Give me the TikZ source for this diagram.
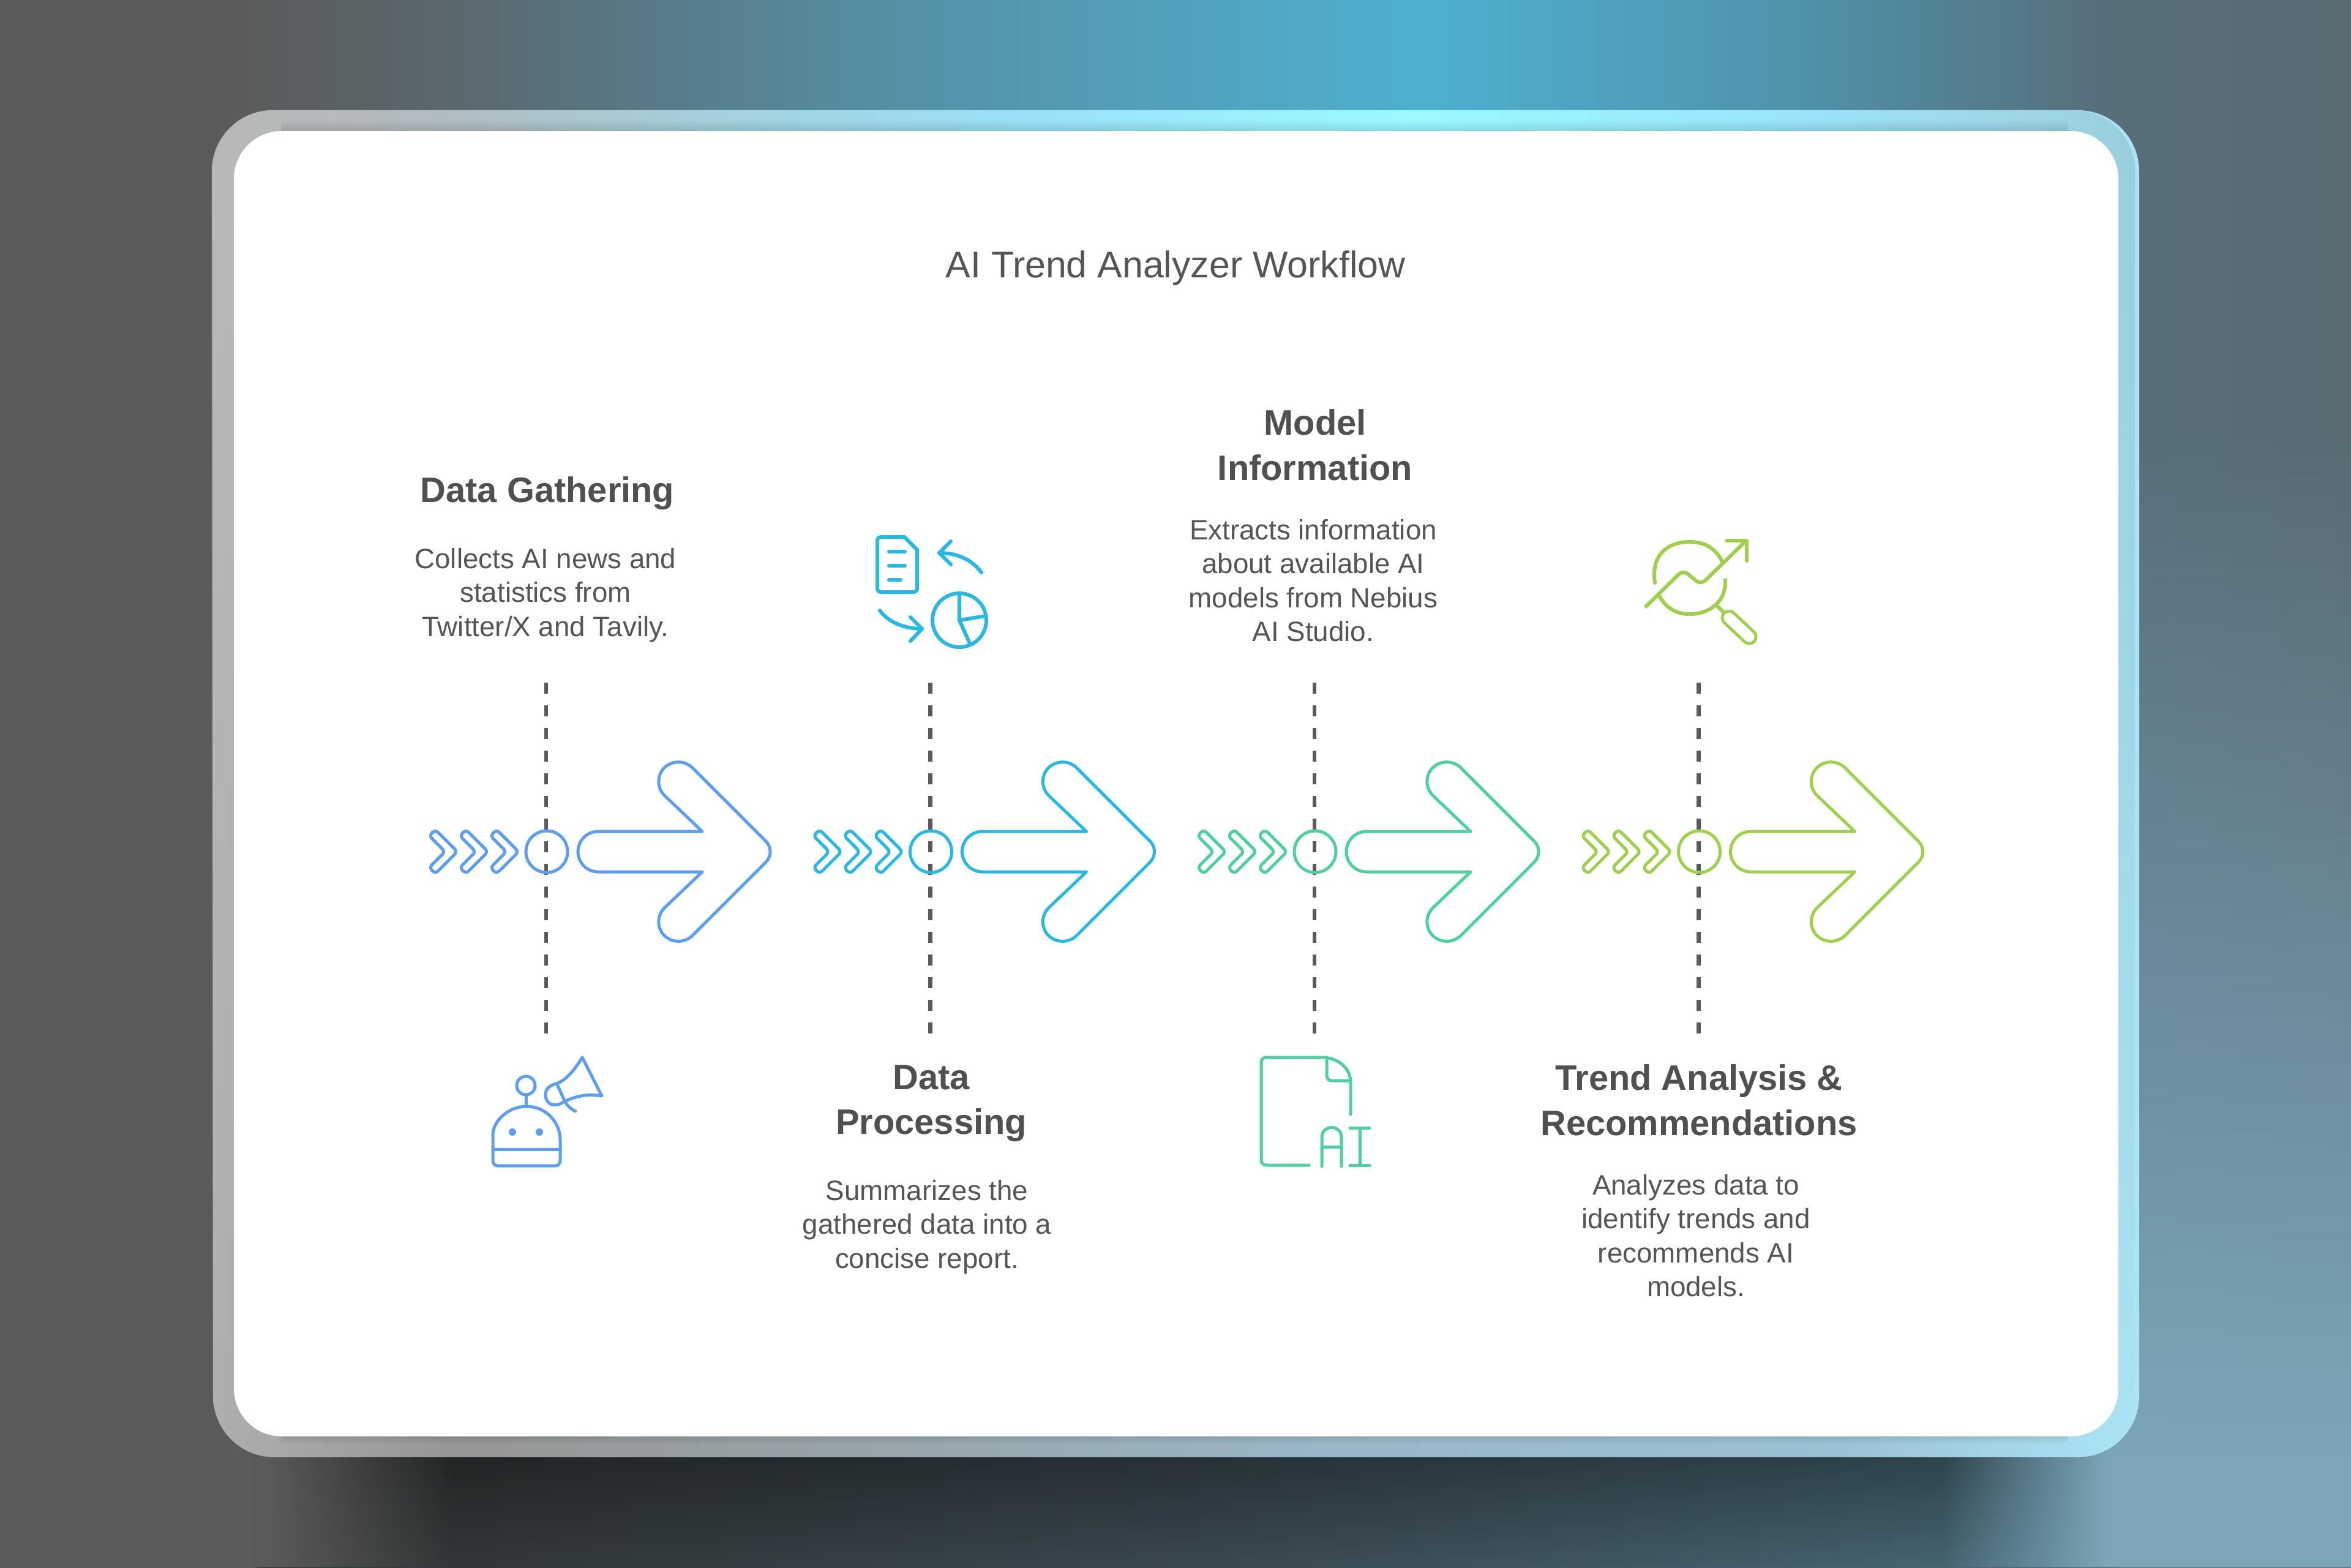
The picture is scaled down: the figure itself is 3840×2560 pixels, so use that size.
\documentclass[tikz,border=0pt]{standalone}
\usepackage{fontspec}
\setmainfont{Liberation Sans}
\usetikzlibrary{positioning,fadings}

\definecolor{stepblue}{HTML}{5D9EEF}
\definecolor{stepcyan}{HTML}{2BB8E0}
\definecolor{stepgreen}{HTML}{50D0A0}
\definecolor{steplime}{HTML}{A0CF50}
\definecolor{inktext}{HTML}{555555}
\definecolor{inkhead}{HTML}{505050}
\definecolor{backleft}{HTML}{5A5A5A}
\definecolor{backright}{HTML}{7BA6B8}

\pgfdeclarehorizontalshading{backshade}{100bp}{%
  rgb(0bp)=(.353,.353,.353); rgb(29.6bp)=(.353,.353,.353); rgb(34.6bp)=(.353,.408,.427);
  rgb(44.1bp)=(.333,.565,.647); rgb(55.3bp)=(.306,.69,.812); rgb(63.3bp)=(.31,.573,.667);
  rgb(69.7bp)=(.341,.435,.478); rgb(75bp)=(.349,.416,.447); rgb(100bp)=(.349,.416,.447)}
\pgfdeclarehorizontalshading{shadowshade}{100bp}{%
  rgb(0bp)=(.188,.2,.2); rgb(25bp)=(.188,.2,.2); rgb(50bp)=(.227,.282,.314);
  rgb(70bp)=(.271,.392,.439); rgb(100bp)=(.271,.392,.439)}
\pgfdeclarehorizontalshading{frametop}{100bp}{%
  rgb(0bp)=(.725,.725,.725); rgb(25bp)=(.725,.725,.725); rgb(30.6bp)=(.702,.737,.753);
  rgb(38.5bp)=(.643,.824,.871); rgb(46.5bp)=(.608,.886,.98); rgb(56bp)=(.612,.984,1);
  rgb(65.6bp)=(.6,.902,.988); rgb(72bp)=(.624,.839,.902); rgb(75bp)=(.596,.808,.867);
  rgb(100bp)=(.596,.808,.867)}
\pgfdeclarehorizontalshading{framebottom}{100bp}{%
  rgb(0bp)=(.745,.745,.745); rgb(25bp)=(.686,.686,.686); rgb(31.2bp)=(.588,.588,.588);
  rgb(41.7bp)=(.596,.643,.659); rgb(54.5bp)=(.6,.722,.784); rgb(67.2bp)=(.608,.761,.831);
  rgb(73.5bp)=(.663,.875,.949); rgb(75bp)=(.667,.894,.961); rgb(100bp)=(.667,.894,.961)}

\tikzset{
  dashline/.style={draw=backleft,line width=0.065cm,dash pattern=on 0.18cm off 0.19cm},
  stepline/.style={line width=0.05cm,line join=round,line cap=round},
  headtext/.style={align=center,inner sep=0pt,text=inkhead,
    font=\fontsize{16.45}{20.9}\selectfont\bfseries},
  desctext/.style={align=center,inner sep=0pt,text=inktext,
    font=\fontsize{13}{15.8}\selectfont},
}

% one chevron, x from the dashed line
\newcommand{\chevron}[2]{
  \draw [stepline,draw=#2,rounded corners=0.06cm]
  (#1+25,0) -- (#1-1,-26) -- (#1+9,-36) -- (#1+45,0)
  -- (#1+9,36) -- (#1-1,26) -- cycle;
}

% dashed line, chevrons, ring and big arrow of one step
\newcommand{\flowstep}[3]{
  \coordinate (#1top) at (#2,1115);
  \coordinate (#1bot) at (#2,1690);
  \draw [dashline] (#1top) -- (#1bot);
  \begin{scope}[shift={(#2,1391)}]
    \chevron{-190}{#3}
    \chevron{-140}{#3}
    \chevron{-90}{#3}
    \node (#1ring) [circle,draw=#3,line width=0.05cm,minimum size=0.68cm,inner sep=0pt]
    at (1,0) {};
    \draw [stepline,draw=#3]
    (255,-33) [rounded corners=0.33cm] -- (170,-114) -- (216,-160)
    [rounded corners=0.24cm] -- (376,0) [rounded corners=0.33cm] -- (216,160) -- (170,114)
    [sharp corners] -- (255,33) [rounded corners=0.33cm] -- (52,33) -- (52,-33)
    [sharp corners] -- cycle;
  \end{scope}
}

\begin{document}
\begin{tikzpicture}[x=0.01cm,y=-0.01cm]

  \useasboundingbox (0,0) rectangle (3840,2560);

  % backdrop
  \shade [shading=backshade] (0,0) rectangle (3840,2560);
  \fill [backright,path fading=north] (3440,700) rectangle (3840,2370);
  \fill [backright] (3440,2370) rectangle (3840,2560);

  % shadow under the card
  \shade [shading=shadowshade] (420,2370) rectangle (3460,2560);
  \fill [black,opacity=0.35,path fading=south] (420,2370) rectangle (3460,2560);
  \fill [backleft] (410,2370) rectangle (441,2560);
  \fill [backleft,path fading=east] (440,2370) rectangle (740,2560);
  \fill [backright] (3439,2370) rectangle (3470,2560);
  \fill [backright,path fading=west] (3170,2370) rectangle (3440,2560);

  % frame and card
  \shade [shading=framebottom,rounded corners=1cm] (348,180) rectangle (3494,2380);
  \shade [shading=frametop,rounded corners=1cm,path fading=south]
  (348,180) rectangle (3494,2380);
  \fill [black,opacity=0.12,path fading=north] (460,196) rectangle (3382,214);
  \fill [black,opacity=0.1,path fading=south] (460,2346) rectangle (3382,2358);
  \fill [white,rounded corners=0.78cm] (382,214) rectangle (3460,2346);

  \node (title) [inner sep=0pt,text=inktext,font=\fontsize{17.3}{20}\selectfont]
  at (1920,438) {AI Trend Analyzer Workflow};

  \flowstep{gather}{892}{stepblue}
  \flowstep{process}{1519.5}{stepcyan}
  \flowstep{model}{2147}{stepgreen}
  \flowstep{trend}{2774.5}{steplime}

  \node (gatherhead) [headtext] at (894,806) {Data Gathering};
  \node (gatherdesc) [desctext] at (891,972)
        {Collects AI news and \\ statistics from \\ Twitter/X and Tavily.};

  \node (processhead) [headtext] at (1521,1802) {Data \\ Processing};
  \node (processdesc) [desctext] at (1514,2004)
        {Summarizes the \\ gathered data into a \\ concise report.};

  \node (modelhead) [headtext] at (2148,727) {Model \\ Information};
  \node (modeldesc) [desctext] at (2145,948)
        {Extracts information \\ about available AI \\ models from Nebius \\ AI Studio.};

  \node (trendhead) [headtext] at (2775,1797) {Trend Analysis \& \\ Recommendations};
  \node (trenddesc) [desctext] at (2770,2018)
        {Analyzes data to \\ identify trends and \\ recommends AI \\ models.};

  % robot with megaphone
  \draw [stepline,draw=stepblue]
  (805,1862) arc [start angle=180,end angle=360,radius=55]
  [rounded corners=0.08cm] -- (915,1904) -- (805,1904) -- cycle;
  \draw [stepline,draw=stepblue] (805,1877) -- (915,1877);
  \draw [stepline,draw=stepblue] (859,1788) -- (859,1807);
  \draw [stepline,draw=stepblue] (859,1773) circle [radius=15];
  \fill [stepblue] (837,1849) circle [radius=6];
  \fill [stepblue] (881,1849) circle [radius=6];
  \draw [stepline,draw=stepblue]
  (908,1770) .. controls (925,1765) and (940,1745) .. (951,1727) -- (983,1790)
  .. controls (960,1786) and (940,1790) .. (920,1800)
  .. controls (905,1810) and (891,1803) .. (891,1788)
  .. controls (891,1778) and (898,1773) .. (908,1770);
  \draw [stepline,draw=stepblue]
  (910,1771) -- (923,1800) .. controls (928,1807) and (933,1812) .. (940,1815);

  % document, arrows and pie
  \draw [stepline,draw=stepcyan,line width=0.06cm,rounded corners=0.06cm]
  (1477,877) -- (1433,877) -- (1433,967) -- (1498,967) -- (1498,898);
  \draw [stepline,draw=stepcyan,line width=0.06cm] (1477,877) -- (1498,898);
  \draw [stepline,draw=stepcyan,line width=0.06cm] (1452,901) -- (1478,901);
  \draw [stepline,draw=stepcyan,line width=0.06cm] (1452,924) -- (1478,924);
  \draw [stepline,draw=stepcyan,line width=0.06cm] (1452,947) -- (1471,947);
  \draw [stepline,draw=stepcyan,line width=0.06cm]
  (1603,935) .. controls (1588,915) and (1565,903) .. (1534,903);
  \draw [stepline,draw=stepcyan,line width=0.06cm] (1553,884) -- (1534,903) -- (1553,922);
  \draw [stepline,draw=stepcyan,line width=0.06cm]
  (1437,997) .. controls (1450,1015) and (1475,1027) .. (1506,1027);
  \draw [stepline,draw=stepcyan,line width=0.06cm] (1487,1008) -- (1506,1027) -- (1487,1047);
  \draw [stepline,draw=stepcyan,line width=0.06cm] (1567,1013) circle [radius=44];
  \draw [stepline,draw=stepcyan,line width=0.06cm] (1567,969) -- (1567,1013) -- (1610,1006);
  \draw [stepline,draw=stepcyan,line width=0.06cm] (1567,1013) -- (1585,1053);

  % page with the letters AI
  \draw [stepline,draw=stepgreen]
  (2138,1903) [rounded corners=0.08cm] -- (2060,1903) -- (2060,1727) [sharp corners] -- (2163,1727)
  .. controls (2187,1729) and (2206,1745) .. (2206,1768) -- (2206,1820);
  \draw [stepline,draw=stepgreen,rounded corners=0.08cm]
  (2167,1727) -- (2167,1765) -- (2206,1765);
  \draw [stepline,draw=stepgreen]
  (2159,1905) -- (2159,1858) .. controls (2159,1836) and (2191,1836) .. (2191,1858) -- (2191,1905);
  \draw [stepline,draw=stepgreen] (2159,1873) -- (2191,1873);
  \draw [stepline,draw=stepgreen] (2205,1842) -- (2237,1842);
  \draw [stepline,draw=stepgreen] (2205,1903) -- (2237,1903);
  \draw [stepline,draw=stepgreen] (2221,1842) -- (2221,1903);

  % magnifier with rising line
  \draw [stepline,draw=steplime,line width=0.06cm]
  (2703,952) .. controls (2696,905) and (2725,885) .. (2760,885)
  .. controls (2785,885) and (2804,897) .. (2813,918);
  \draw [stepline,draw=steplime,line width=0.06cm]
  (2710,973) .. controls (2722,995) and (2740,1003) .. (2760,1003)
  .. controls (2795,1003) and (2820,980) .. (2818,947);
  \draw [draw=steplime,line width=0.06cm,line join=round]
  (2687,992) [rounded corners=0.1cm] -- (2749,931) -- (2778,955) [sharp corners] -- (2852,883);
  \draw [stepline,draw=steplime,line width=0.06cm] (2820,883) -- (2853,883) -- (2853,916);
  \draw [stepline,draw=steplime,line width=0.06cm] (2803,988) -- (2816,1001);
  \draw [draw=steplime,line width=0.05cm,double=white,double distance=0.17cm,line cap=round]
  (2824,1009) -- (2857,1040);

\end{tikzpicture}
\end{document}
